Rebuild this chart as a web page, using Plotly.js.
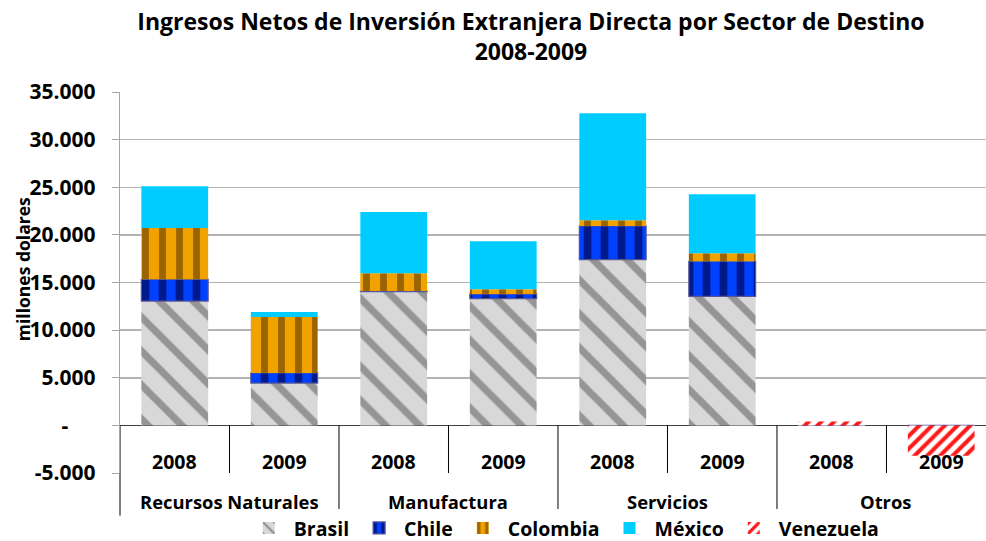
<!DOCTYPE html>
<html>
<head>
<meta charset="utf-8">
<script src="https://cdn.plot.ly/plotly-3.0.1.min.js"></script>
<style>html,body{margin:0;padding:0;background:#fff;}#chart{width:986px;height:541px;}</style>
</head>
<body>
<div id="chart"></div>
<script>
// ---- data ----
const sectors = ["Recursos Naturales", "Manufactura", "Servicios", "Otros"];
const years = ["2008", "2009", "2008", "2009", "2008", "2009", "2008", "2009"];
const brasil    = [13050, 4440, 14050, 13300, 17400, 13550, 0, 0];
const chile     = [2280, 1060, 60, 480, 3540, 3680, 0, 0];
const colombia  = [5390, 5880, 1850, 500, 590, 840, 0, 0];
const mexico    = [4380, 520, 6440, 5040, 11240, 6190, 0, 0];
const venezuela = [0, 0, 0, 0, 0, 0, 400, -3200];
const yTickVals = [-5000, 0, 5000, 10000, 15000, 20000, 25000, 30000, 35000];
const yTickText = ["-5.000", "-\u00a0\u00a0\u00a0\u00a0\u00a0", "5.000", "10.000", "15.000", "20.000", "25.000", "30.000", "35.000"];
const yTitle = "millones dolares";

// ---- chart ----
const FONT = "'Open Sans', Lato, sans-serif";
const xs = years.map((_, i) => i);
const xr = [-0.5, 7.409];
const yr = [-5000, 35000];
const W = 0.61;

function bar(name, y, color, pattern, line) {
  return {
    type: "bar", name: name, x: xs, y: y, width: W,
    marker: { color: color, pattern: pattern, line: line || { width: 0 } },
    hoverinfo: "skip"
  };
}

const traces = [
  bar("Brasil", brasil, "#b0b0b0", { shape: "\\", bgcolor: "#d8d8d8", fgcolor: "#959595", size: 24, solidity: 0.3 }),
  bar("Chile", chile, "#0033ee", { shape: "|", bgcolor: "#0040ff", fgcolor: "#001a8c", size: 17, solidity: 0.45 }, { color: "#55559a", width: 1.2 }),
  bar("Colombia", colombia, "#e89a00", { shape: "|", bgcolor: "#f2a200", fgcolor: "#9a6400", size: 17, solidity: 0.4 }),
  bar("México", mexico, "#00ccff", { shape: "" }),
  bar("Venezuela", venezuela, "#ff0000", { shape: "/", bgcolor: "#ffffff", fgcolor: "#ff1a1a", size: 9, solidity: 0.45 })
];

const px = v => (v - xr[0]) / (xr[1] - xr[0]);
const shapes = [];
const annotations = [];
// year-level boxes
xs.forEach(i => {
  shapes.push({ type: "line", xref: "x", yref: "y", x0: i - 0.5, x1: i - 0.5, y0: 0, y1: yr[0],
    line: { color: "#000000", width: 1 } });
  annotations.push({ x: i, xref: "x", y: 0.029, yref: "paper", yanchor: "middle", text: years[i],
    showarrow: false, font: { family: FONT, size: 19.5, color: "#000", weight: "bold" } });
});
// sector-level boxes
sectors.forEach((s, k) => {
  shapes.push({ type: "line", xref: "paper", yref: "paper", x0: px(2 * k - 0.5), x1: px(2 * k - 0.5), y0: 0, y1: -0.112,
    line: { color: "#000000", width: 1 } });
  annotations.push({ x: 2 * k + 0.5, xref: "x", y: -0.076, yref: "paper", yanchor: "middle", text: s,
    showarrow: false, font: { family: FONT, size: 18.4, color: "#000", weight: "bold" } });
});
// y-axis title
annotations.push({ x: -0.112, xref: "paper", xanchor: "center", y: 0.535, yref: "paper", yanchor: "middle",
  text: yTitle, textangle: -90, showarrow: false,
  font: { family: FONT, size: 17.5, color: "#000", weight: "bold" } });

const layout = {
  width: 986, height: 541,
  margin: { l: 120, r: 0, t: 92, b: 68, autoexpand: false },
  paper_bgcolor: "#ffffff", plot_bgcolor: "#ffffff",
  barmode: "relative",
  font: { family: FONT, color: "#000" },
  title: {
    text: "Ingresos Netos de Inversión Extranjera Directa por Sector de Destino<br>2008-2009",
    x: 0.5385, xref: "container", xanchor: "center",
    y: 0.9445, yref: "container", yanchor: "top",
    font: { family: FONT, size: 23, color: "#000", weight: "bold" }
  },
  xaxis: { range: xr, showticklabels: false, showgrid: false, zeroline: false, ticks: "", fixedrange: true },
  yaxis: {
    range: yr, tickvals: yTickVals, ticktext: yTickText,
    showgrid: true, gridcolor: "#b3b3b3", gridwidth: 1.5,
    zeroline: true, zerolinecolor: "#404040", zerolinewidth: 1.2,
    showline: true, linecolor: "#a6a6a6", linewidth: 1.2,
    ticks: "outside", ticklen: 7, tickcolor: "#a6a6a6", ticklabelstandoff: 12,
    tickfont: { family: FONT, size: 21, color: "#000", weight: "bold" }
  },
  legend: {
    orientation: "h", x: 0.513, xanchor: "center", y: -0.145, yanchor: "middle",
    font: { family: FONT, size: 19.5, color: "#000", weight: "bold" },
    traceorder: "normal", itemwidth: 40
  },
  shapes: shapes,
  annotations: annotations
};

Plotly.newPlot("chart", traces, layout, { displayModeBar: false, staticPlot: true });
</script>
</body>
</html>
